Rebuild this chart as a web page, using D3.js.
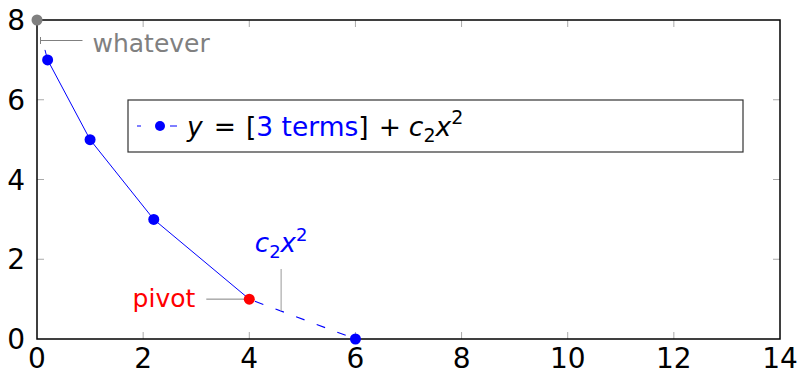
<!DOCTYPE html>
<html>
<head>
<meta charset="utf-8">
<script src="https://cdn.jsdelivr.net/npm/d3@7"></script>
<style>
  body { margin: 0; background: #fff; }
  svg { display: block; }
  text { font-family: "DejaVu Sans", "Open Sans", sans-serif; }
</style>
</head>
<body>
<svg id="chart" width="797" height="372"></svg>
<script>
// Series: solid part, dashed continuation, and the separate grey point
const solidX = [0.2, 1, 2.2, 4];
const solidY = [7, 5, 3, 1];
const dashX = [4, 6];
const dashY = [1, 0];
const extraX = [0];
const extraY = [8];
const pivotX = [4];
const pivotY = [1];
const xTicks = [0, 2, 4, 6, 8, 10, 12, 14];
const yTicks = [0, 2, 4, 6, 8];

const W = 797, H = 372;
const m = { left: 37, right: 17, top: 20, bottom: 33 };
const svg = d3.select("#chart");
const x = d3.scaleLinear().domain([0, 14]).range([m.left, W - m.right]);
const y = d3.scaleLinear().domain([0, 8]).range([H - m.bottom, m.top]);

const blue = "#0000ff", red = "#ff0000", grey = "#808080", tickGrey = "#aaaaaa";
const fsTick = 28, fsNote = 24.5, fsLegend = 26.5;

// inner ticks on all four sides
const tickLen = 7;
const g = svg.append("g");
xTicks.slice(1, -1).forEach(t => {
  g.append("line").attr("x1", x(t)).attr("x2", x(t)).attr("y1", y(0)).attr("y2", y(0) - tickLen).attr("stroke", tickGrey);
  g.append("line").attr("x1", x(t)).attr("x2", x(t)).attr("y1", y(8)).attr("y2", y(8) + tickLen).attr("stroke", tickGrey);
});
yTicks.slice(1, -1).forEach(t => {
  g.append("line").attr("x1", x(0)).attr("x2", x(0) + tickLen).attr("y1", y(t)).attr("y2", y(t)).attr("stroke", tickGrey);
  g.append("line").attr("x1", x(14)).attr("x2", x(14) - tickLen).attr("y1", y(t)).attr("y2", y(t)).attr("stroke", tickGrey);
});

// frame
svg.append("rect").attr("x", x(0)).attr("y", y(8)).attr("width", x(14) - x(0)).attr("height", y(0) - y(8))
  .attr("fill", "none").attr("stroke", "#000").attr("stroke-width", 1.5);

// tick labels
svg.append("g").selectAll("text").data(xTicks).join("text")
  .attr("x", d => x(d)).attr("y", y(0) + 29).attr("text-anchor", "middle")
  .attr("font-size", fsTick).attr("fill", "#000").text(d => d);
svg.append("g").selectAll("text").data(yTicks).join("text")
  .attr("x", x(0) - 12).attr("y", d => y(d) + 10).attr("text-anchor", "end")
  .attr("font-size", fsTick).attr("fill", "#000").text(d => d);

const line = d3.line().x(d => x(d[0])).y(d => y(d[1]));

// short stub from the first blue point toward the grey point
const p0 = [solidX[0], solidY[0]], pg = [extraX[0], extraY[0]];
const stub = [p0, [p0[0] + (pg[0] - p0[0]) * 0.25, p0[1] + (pg[1] - p0[1]) * 0.25]];
svg.append("path").attr("d", line(stub)).attr("fill", "none").attr("stroke", blue).attr("stroke-width", 1);

svg.append("path").attr("d", line(solidX.map((v, i) => [v, solidY[i]])))
  .attr("fill", "none").attr("stroke", blue).attr("stroke-width", 1);
svg.append("path").attr("d", line(dashX.map((v, i) => [v, dashY[i]])))
  .attr("fill", "none").attr("stroke", blue).attr("stroke-width", 1.1)
  .attr("stroke-dasharray", "9 13").attr("stroke-dashoffset", -6);

// annotation pin on the dashed part
const pinX = dashX[0] + (dashX[1] - dashX[0]) * 0.3;
const pinY = dashY[0] + (dashY[1] - dashY[0]) * 0.3;
svg.append("line").attr("x1", x(pinX)).attr("x2", x(pinX)).attr("y1", y(pinY)).attr("y2", y(pinY) - 42)
  .attr("stroke", tickGrey).attr("stroke-width", 1.2);
svg.append("text").attr("x", x(pinX)).attr("y", y(pinY) - 59).attr("text-anchor", "middle")
  .attr("font-size", fsNote + 1.5).attr("fill", blue)
  .call(t => {
    t.append("tspan").attr("font-style", "italic").text("c");
    t.append("tspan").attr("font-size", 18).attr("dy", 6).text("2");
    t.append("tspan").attr("font-style", "italic").attr("dy", -6).text("x");
    t.append("tspan").attr("font-size", 18).attr("dy", -11).text("2");
  });

// pivot label
svg.append("line").attr("x1", x(pivotX[0]) - 3).attr("x2", x(pivotX[0]) - 43).attr("y1", y(pivotY[0])).attr("y2", y(pivotY[0]))
  .attr("stroke", grey).attr("stroke-width", 1);
svg.append("text").attr("x", x(pivotX[0]) - 54).attr("y", y(pivotY[0]) + 8).attr("text-anchor", "end")
  .attr("font-size", fsNote + 0.5).attr("fill", red).text("pivot");

// "whatever" pin near the grey point
const wy = y(extraY[0]) + 20.5, wx = x(extraX[0]) + 3.5;
svg.append("line").attr("x1", wx).attr("x2", wx + 42).attr("y1", wy).attr("y2", wy).attr("stroke", grey);
svg.append("line").attr("x1", wx).attr("x2", wx).attr("y1", wy - 3.5).attr("y2", wy + 3.5).attr("stroke", grey);
svg.append("text").attr("x", wx + 52).attr("y", wy + 11.5).attr("font-size", fsNote + 0.5).attr("fill", grey).text("whatever");

// markers
svg.append("g").selectAll("circle").data(solidX.slice(0, -1).map((v, i) => [v, solidY[i]]).concat([[dashX[1], dashY[1]]]))
  .join("circle").attr("cx", d => x(d[0])).attr("cy", d => y(d[1])).attr("r", 5.5).attr("fill", blue);
svg.append("circle").attr("cx", x(pivotX[0])).attr("cy", y(pivotY[0])).attr("r", 5.5).attr("fill", red);
svg.append("circle").attr("cx", x(extraX[0])).attr("cy", y(extraY[0])).attr("r", 5.5).attr("fill", grey);

// legend
const lg = svg.append("g").attr("transform", "translate(128,100)");
lg.append("rect").attr("width", 615).attr("height", 52).attr("fill", "#fff").attr("stroke", "#333").attr("stroke-width", 1.2);
lg.append("line").attr("x1", 9).attr("x2", 49).attr("y1", 26).attr("y2", 26)
  .attr("stroke", blue).attr("stroke-width", 1.1).attr("stroke-dasharray", "4 29 7");
lg.append("circle").attr("cx", 32).attr("cy", 26).attr("r", 5).attr("fill", blue);
lg.append("text").attr("x", 59).attr("y", 36).attr("font-size", fsLegend).attr("fill", "#000")
  .call(t => {
    t.append("tspan").attr("font-style", "italic").text("y");
    t.append("tspan").attr("dx", 11).text("=");
    t.append("tspan").attr("dx", 10).text("[");
    t.append("tspan").attr("fill", blue).text("3 terms");
    t.append("tspan").text("]");
    t.append("tspan").attr("dx", 10).text("+");
    t.append("tspan").attr("dx", 8).attr("font-style", "italic").text("c");
    t.append("tspan").attr("font-size", 19).attr("dy", 6).text("2");
    t.append("tspan").attr("font-style", "italic").attr("dy", -6).text("x");
    t.append("tspan").attr("font-size", 19).attr("dy", -12).text("2");
  });
</script>
</body>
</html>
